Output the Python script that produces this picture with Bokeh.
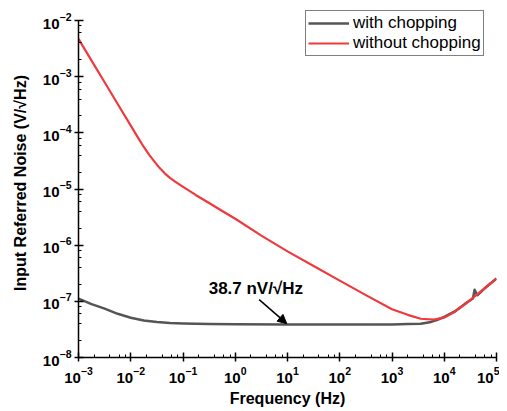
from bokeh.plotting import figure
from bokeh.models import Legend, LegendItem, Label, Arrow, NormalHead, LogTicker
from bokeh.embed import file_html
from bokeh.resources import INLINE

# ---- data ----
freq_without = [1e-3, 1.778e-3, 3.162e-3, 5.623e-3, 1e-2, 1.413e-2, 1.778e-2, 2.239e-2,
                2.818e-2, 3.548e-2, 4.467e-2, 5.623e-2, 7.079e-2, 8.913e-2, 0.1259, 0.1778,
                0.3162, 0.5623, 1.0, 3.162, 10.0, 31.62, 100.0, 316.2, 1000.0, 1995.0,
                3548.0, 6310.0, 1e4, 1.585e4, 2.512e4, 3.981e4, 6.31e4, 1e5]
noise_without = [4.72e-3, 1.936e-3, 7.96e-4, 3.27e-4, 1.343e-4, 7.87e-5, 5.6e-5, 4.1e-5,
                 3.1e-5, 2.38e-5, 1.9e-5, 1.58e-5, 1.35e-5, 1.175e-5, 9.55e-6, 7.76e-6,
                 5.62e-6, 4.07e-6, 2.95e-6, 1.48e-6, 7.76e-7, 4.27e-7, 2.34e-7, 1.29e-7,
                 7.24e-8, 5.75e-8, 4.90e-8, 4.72e-8, 5.13e-8, 6.46e-8, 8.91e-8, 1.26e-7,
                 1.78e-7, 2.53e-7]

freq_with = [1e-3, 1.778e-3, 3.162e-3, 5.623e-3, 1e-2, 1.778e-2, 3.162e-2, 5.623e-2, 0.1,
             0.3162, 1.0, 10.0, 100.0, 1000.0, 1995.0, 3548.0, 5623.0, 7413.0, 1e4, 1.585e4,
             2.512e4, 3.54e4, 3.81e4, 4.3e4, 6.31e4, 1e5]
noise_with = [1.12e-7, 8.9e-8, 7.4e-8, 6.0e-8, 5.1e-8, 4.57e-8, 4.27e-8, 4.12e-8, 4.03e-8,
              3.94e-8, 3.89e-8, 3.87e-8, 3.87e-8, 3.87e-8, 3.93e-8, 4.0e-8, 4.3e-8, 4.7e-8,
              5.3e-8, 6.6e-8, 9.1e-8, 1.12e-7, 1.61e-7, 1.28e-7, 1.8e-7, 2.55e-7]

series_names = ["with chopping", "without chopping"]
annotation_text = "38.7 nV/\u221aHz"
annotation_pos = (2.48, 1.68e-7)
arrow_start = (2.87, 1.07e-7)
arrow_end = (9.7, 4.0e-8)

RED = "#EE3A3D"
GRAY = "#555555"
FONT = "Liberation Sans"

p = figure(frame_width=418, frame_height=349, x_axis_type="log", y_axis_type="log",
           x_range=(1e-3, 1e5), y_range=(1e-8, 1.637e-2),
           output_backend="svg", toolbar_location=None,
           min_border_left=78, min_border_right=3, min_border_top=8, min_border_bottom=0)
p.outline_line_color = None
p.xgrid.visible = False
p.ygrid.visible = False
p.background_fill_color = "white"
p.border_fill_color = "white"

r_with = p.line(freq_with, noise_with, line_color=GRAY, line_width=2.5, line_join="round")
r_without = p.line(freq_without, noise_without, line_color=RED, line_width=2.2, line_join="round")

p.xaxis.ticker = LogTicker(desired_num_ticks=10)
p.yaxis.ticker = LogTicker(desired_num_ticks=10)
p.yaxis.bounds = (1e-8, 1e-2)

for ax in (p.xaxis[0], p.yaxis[0]):
    ax.axis_line_color = "black"
    ax.axis_line_width = 1.5
    ax.major_tick_line_color = "black"
    ax.minor_tick_line_color = "black"
    ax.major_tick_line_width = 1.5
    ax.minor_tick_line_width = 1
    ax.major_tick_in = 5
    ax.major_tick_out = 4
    ax.minor_tick_in = 3
    ax.minor_tick_out = 0
    ax.major_label_text_font = FONT
    ax.major_label_text_font_style = "bold"
    ax.major_label_text_font_size = "15px"
    ax.major_label_text_color = "black"
    ax.axis_label_text_font = FONT
    ax.axis_label_text_font_style = "bold"
    ax.axis_label_text_font_size = "16px"
    ax.axis_label_text_color = "black"

p.xaxis.axis_label = "Frequency (Hz)"
p.yaxis.axis_label = "Input Referred Noise (V/\u221aHz)"
p.xaxis.major_label_standoff = 5
p.xaxis.axis_label_standoff = 4
p.yaxis.major_label_standoff = 3
p.yaxis.axis_label_standoff = 11

legend = Legend(items=[LegendItem(label=series_names[0], renderers=[r_with]),
                       LegendItem(label=series_names[1], renderers=[r_without])],
                location=(227, 301), orientation="vertical")
legend.label_text_font = FONT
legend.label_text_font_size = "17px"
legend.label_text_color = "black"
legend.glyph_width = 41
legend.glyph_height = 20
legend.label_height = 20
legend.label_standoff = 4
legend.padding = 2
legend.spacing = 0
legend.margin = 0
legend.border_line_color = "black"
legend.border_line_width = 1
legend.background_fill_color = "white"
legend.background_fill_alpha = 1
p.add_layout(legend)

lbl = Label(x=annotation_pos[0], y=annotation_pos[1], text=annotation_text,
            text_font=FONT, text_font_style="bold", text_font_size="17px",
            text_align="center", text_baseline="middle", text_color="black")
p.add_layout(lbl)

arr = Arrow(x_start=arrow_start[0], y_start=arrow_start[1], x_end=arrow_end[0], y_end=arrow_end[1],
            line_color="black", line_width=1.5,
            end=NormalHead(size=9, fill_color="black", line_color="black"))
p.add_layout(arr)

open("out.html", "w").write(file_html(p, INLINE))
